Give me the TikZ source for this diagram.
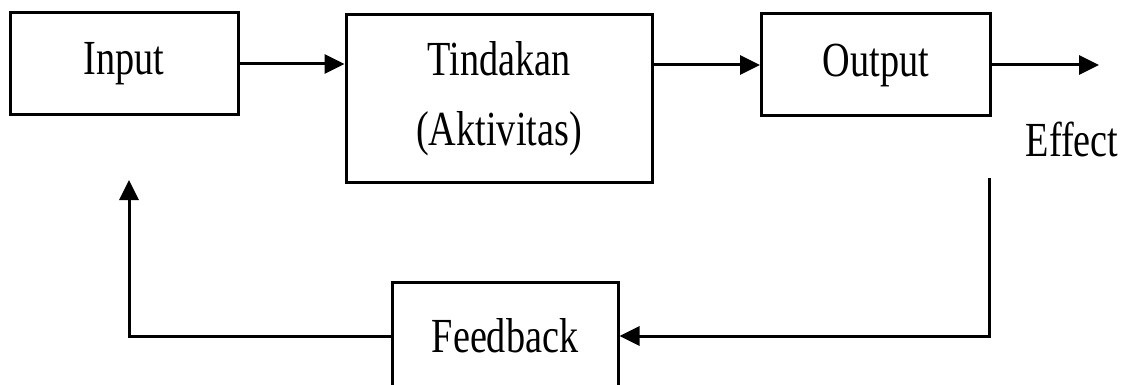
\documentclass[tikz,border=0pt]{standalone}
\usepackage{fontspec}
\setmainfont{Liberation Serif}[FakeStretch=0.78]
\usetikzlibrary{arrows.meta}
\tikzset{
  block/.style={draw, line width=3pt, inner sep=0pt, align=center,
    font=\fontsize{49}{70}\selectfont},
  flow/.style={line width=3pt, -{Triangle[length=20pt,width=19pt]}},
}
\begin{document}
\begin{tikzpicture}[x=1pt,y=-1pt]
      \path[use as bounding box, clip] (0,0) rectangle (1131,385);
      \draw
        (124,64) node[block, minimum width=228pt, minimum height=102pt] (input){Input}
        (499,98.5) node[block, minimum width=306pt, minimum height=167pt] (tindakan){Tindakan\\(Aktivitas)}
        (876,65) node[block, minimum width=229pt, minimum height=102pt] (output){Output}
        (505,336) node[block, minimum width=226pt, minimum height=108pt] (feedback){Feedback}
        (1072,156) node[anchor=base, font=\fontsize{49}{70}\selectfont] (effect){Effect};
      \coordinate (effectend) at (1099,65);
      \coordinate (fbstart) at (989,178);
      \coordinate (fbend) at (129,180);
      \begin{scope}[flow]
        \draw (input.east) -- (input.east -| tindakan.west);
        \draw (output.west -| tindakan.east) -- (output.west);
        \draw (output.east) -- (effectend);
        \draw (fbstart) |- (feedback.east);
        \draw (feedback.west) -| (fbend);
      \end{scope}
    \end{tikzpicture}
\end{document}
